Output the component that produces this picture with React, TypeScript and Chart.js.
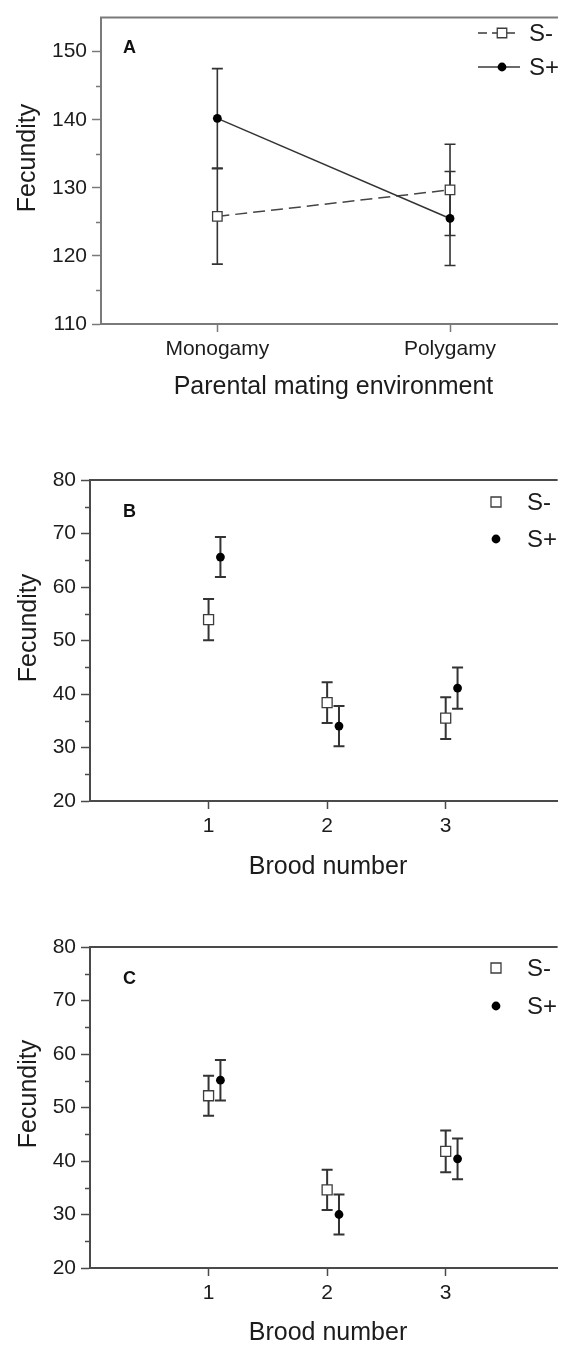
import React, { useEffect, useRef } from 'react';
import { Chart, registerables } from 'chart.js';

Chart.register(...registerables);

const FONT = '"Liberation Sans", Arial, Helvetica, sans-serif';

// ---------- Data ----------
const seriesNames = ['S-', 'S+'];

// Panel A
const matingCategories = ['Monogamy', 'Polygamy'];
const matingX = [1, 2];
const aSMinusMean = [125.8, 129.7];
const aSMinusSE = [7.0, 6.7];
const aSPlusMean = [140.2, 125.5];
const aSPlusSE = [7.3, 6.9];
const fecundityTicksA = [110, 115, 120, 125, 130, 135, 140, 145, 150];

// Panels B and C
const broods = [1, 2, 3];
const broodLabels = ['1', '2', '3'];
const bSMinusMean = [53.9, 38.4, 35.5];
const bSMinusSE = [3.85, 3.8, 3.9];
const bSPlusMean = [65.6, 34.0, 41.1];
const bSPlusSE = [3.75, 3.75, 3.85];

const cSMinusMean = [52.2, 34.6, 41.8];
const cSMinusSE = [3.75, 3.75, 3.9];
const cSPlusMean = [55.1, 30.0, 40.4];
const cSPlusSE = [3.8, 3.75, 3.8];

const fecundityTicksBC = [20, 25, 30, 35, 40, 45, 50, 55, 60, 65, 70, 75, 80];

type PanelCfg = {
  top: number;
  height: number;
  padTop: number;
  yWidth: number;
  xHeight: number;
  xMin: number;
  xMax: number;
  yMin: number;
  yMax: number;
  yTicks: number[];
  xTicks: number[];
  xTickLabels: string[];
  xTitle: string;
  xTitleY: number;
  yTitleY: number;
  yTitleX: number;
  plusOffset: number;
  lines: boolean;
  label: string;
  labelX: number;
  labelY: number;
  legendRows: number[];
  legendMarkerX: number;
  legendTextX: number;
  legendLine: [number, number] | null;
  axisColor: string;
  squareSize: number;
  minusMean: number[];
  minusSE: number[];
  plusMean: number[];
  plusSE: number[];
};

const TEXT = '#1c1c1c';

const panels: PanelCfg[] = [
  {
    top: 0, height: 420, padTop: 10, yWidth: 101, xHeight: 96,
    xMin: 0.5, xMax: 2.464, yMin: 110, yMax: 155,
    yTicks: fecundityTicksA, xTicks: matingX, xTickLabels: matingCategories,
    xTitle: 'Parental mating environment', xTitleY: 387, yTitleY: 158, yTitleX: 28,
    plusOffset: 0, lines: true,
    label: 'A', labelX: 123, labelY: 48,
    legendRows: [33, 67], legendMarkerX: 502, legendTextX: 529, legendLine: [478, 520],
    axisColor: '#7a7a7a', squareSize: 9.5,
    minusMean: aSMinusMean, minusSE: aSMinusSE, plusMean: aSPlusMean, plusSE: aSPlusSE,
  },
  {
    top: 440, height: 440, padTop: 40, yWidth: 90, xHeight: 79,
    xMin: 0, xMax: 3.944, yMin: 20, yMax: 80,
    yTicks: fecundityTicksBC, xTicks: broods, xTickLabels: broodLabels,
    xTitle: 'Brood number', xTitleY: 427, yTitleY: 188, yTitleX: 29,
    plusOffset: 0.1, lines: false,
    label: 'B', labelX: 123, labelY: 72,
    legendRows: [62, 99], legendMarkerX: 496, legendTextX: 527, legendLine: null,
    axisColor: '#4a4a4a', squareSize: 10,
    minusMean: bSMinusMean, minusSE: bSMinusSE, plusMean: bSPlusMean, plusSE: bSPlusSE,
  },
  {
    top: 880, height: 467, padTop: 67, yWidth: 90, xHeight: 79,
    xMin: 0, xMax: 3.944, yMin: 20, yMax: 80,
    yTicks: fecundityTicksBC, xTicks: broods, xTickLabels: broodLabels,
    xTitle: 'Brood number', xTitleY: 453, yTitleY: 214, yTitleX: 29,
    plusOffset: 0.1, lines: false,
    label: 'C', labelX: 123, labelY: 99,
    legendRows: [88, 126], legendMarkerX: 496, legendTextX: 527, legendLine: null,
    axisColor: '#4a4a4a', squareSize: 10,
    minusMean: cSMinusMean, minusSE: cSMinusSE, plusMean: cSPlusMean, plusSE: cSPlusSE,
  },
];

function drawSquare(ctx: CanvasRenderingContext2D, x: number, y: number, s: number) {
  ctx.save();
  ctx.fillStyle = '#ffffff';
  ctx.strokeStyle = '#3c3c3c';
  ctx.lineWidth = 1.3;
  ctx.beginPath();
  ctx.rect(x - s / 2, y - s / 2, s, s);
  ctx.fill();
  ctx.stroke();
  ctx.restore();
}

function drawDot(ctx: CanvasRenderingContext2D, x: number, y: number, r: number) {
  ctx.save();
  ctx.fillStyle = '#000000';
  ctx.beginPath();
  ctx.arc(x, y, r, 0, Math.PI * 2);
  ctx.fill();
  ctx.restore();
}

function makeChart(canvas: HTMLCanvasElement, p: PanelCfg) {
  const minusX = p.xTicks.map((v) => v);
  const plusX = p.xTicks.map((v) => v + p.plusOffset);

  const minusData = p.minusMean.map((m, i) => ({ x: minusX[i], y: m }));
  const plusData = p.plusMean.map((m, i) => ({ x: plusX[i], y: m }));

  const errorGroups = [
    { xs: minusX, means: p.minusMean, ses: p.minusSE },
    { xs: plusX, means: p.plusMean, ses: p.plusSE },
  ];

  const decor = {
    id: 'decor' + p.label,
    beforeDatasetsDraw(chart: any) {
      const ctx: CanvasRenderingContext2D = chart.ctx;
      const xs = chart.scales.x;
      const ys = chart.scales.y;
      const area = chart.chartArea;
      ctx.save();
      // top frame line
      ctx.strokeStyle = p.axisColor;
      ctx.lineWidth = 2;
      ctx.beginPath();
      ctx.moveTo(area.left - 1, area.top);
      ctx.lineTo(area.right, area.top);
      ctx.stroke();
      // minor ticks
      ctx.lineWidth = 1.5;
      ctx.beginPath();
      p.yTicks.forEach((v) => {
        if (v % 10 !== 0) {
          const py = Math.round(ys.getPixelForValue(v)) + 0.5;
          ctx.moveTo(area.left - 5, py);
          ctx.lineTo(area.left, py);
        }
      });
      ctx.stroke();
      // error bars
      ctx.strokeStyle = '#333333';
      ctx.lineWidth = p.lines ? 1.6 : 2;
      const cap = 5.5;
      errorGroups.forEach((g) => {
        g.xs.forEach((xv, i) => {
          const px = xs.getPixelForValue(xv);
          const t = ys.getPixelForValue(g.means[i] + g.ses[i]);
          const b = ys.getPixelForValue(g.means[i] - g.ses[i]);
          ctx.beginPath();
          ctx.moveTo(px, t);
          ctx.lineTo(px, b);
          ctx.moveTo(px - cap, t);
          ctx.lineTo(px + cap, t);
          ctx.moveTo(px - cap, b);
          ctx.lineTo(px + cap, b);
          ctx.stroke();
        });
      });
      ctx.restore();
    },
    afterDraw(chart: any) {
      const ctx: CanvasRenderingContext2D = chart.ctx;
      const area = chart.chartArea;
      ctx.save();
      // panel label
      ctx.fillStyle = '#111111';
      ctx.font = `bold 18px ${FONT}`;
      ctx.textAlign = 'left';
      ctx.textBaseline = 'middle';
      ctx.fillText(p.label, p.labelX, p.labelY);
      // legend
      p.legendRows.forEach((ry, i) => {
        if (p.legendLine) {
          ctx.save();
          ctx.strokeStyle = '#3a3a3a';
          ctx.lineWidth = 1.5;
          if (i === 0) ctx.setLineDash([9, 5]);
          ctx.beginPath();
          ctx.moveTo(p.legendLine[0], ry);
          ctx.lineTo(p.legendLine[1], ry);
          ctx.stroke();
          ctx.restore();
        }
        if (i === 0) drawSquare(ctx, p.legendMarkerX, ry, p.squareSize);
        else drawDot(ctx, p.legendMarkerX, ry, 4.4);
        ctx.fillStyle = TEXT;
        ctx.font = `24px ${FONT}`;
        ctx.textAlign = 'left';
        ctx.textBaseline = 'middle';
        ctx.fillText(seriesNames[i], p.legendTextX, ry + 1);
      });
      // axis titles
      ctx.fillStyle = TEXT;
      ctx.font = `25px ${FONT}`;
      ctx.textAlign = 'center';
      ctx.textBaseline = 'middle';
      ctx.fillText(p.xTitle, (area.left + 566) / 2, p.xTitleY);
      ctx.save();
      ctx.translate(p.yTitleX, p.yTitleY);
      ctx.rotate(-Math.PI / 2);
      ctx.fillText('Fecundity', 0, 0);
      ctx.restore();
      ctx.restore();
    },
  };

  const datasets: any[] = [
    {
      label: seriesNames[0],
      data: minusData,
      showLine: p.lines,
      borderColor: '#444444',
      borderWidth: 1.5,
      borderDash: [12, 6],
      pointStyle: 'rect',
      pointRadius: p.squareSize / Math.SQRT2,
      pointBackgroundColor: '#ffffff',
      pointBorderColor: '#3c3c3c',
      pointBorderWidth: 1.3,
      order: 2,
    },
    {
      label: seriesNames[1],
      data: plusData,
      showLine: p.lines,
      borderColor: '#333333',
      borderWidth: 1.5,
      pointStyle: 'circle',
      pointRadius: 4.4,
      pointBackgroundColor: '#000000',
      pointBorderColor: '#000000',
      pointBorderWidth: 0,
      order: 1,
    },
  ];

  return new Chart(canvas, {
    type: 'scatter',
    data: { datasets },
    options: {
      responsive: false,
      animation: false,
      devicePixelRatio: 1,
      layout: { padding: { top: p.padTop, left: 0, right: 0, bottom: 0 } },
      plugins: { legend: { display: false }, tooltip: { enabled: false } },
      scales: {
        x: {
          type: 'linear',
          min: p.xMin,
          max: p.xMax,
          afterBuildTicks: (s: any) => { s.ticks = p.xTicks.map((v) => ({ value: v })); },
          afterFit: (s: any) => { s.height = p.xHeight; },
          ticks: {
            autoSkip: false,
            maxRotation: 0,
            padding: 5,
            color: TEXT,
            font: { family: FONT, size: 21 },
            callback: (v: any) => {
              const idx = p.xTicks.indexOf(Number(v));
              return idx >= 0 ? p.xTickLabels[idx] : '';
            },
          },
          grid: { drawOnChartArea: false, drawTicks: true, tickLength: 8, tickColor: p.axisColor, tickWidth: 1.5 },
          border: { display: true, color: p.axisColor, width: 2 },
        },
        y: {
          type: 'linear',
          min: p.yMin,
          max: p.yMax,
          afterBuildTicks: (s: any) => { s.ticks = p.yTicks.map((v) => ({ value: v })); },
          afterFit: (s: any) => { s.width = p.yWidth; },
          ticks: {
            autoSkip: false,
            padding: 5,
            color: TEXT,
            font: { family: FONT, size: 21 },
            callback: (v: any) => (Number(v) % 10 === 0 ? String(v) : ''),
          },
          grid: {
            drawOnChartArea: false,
            drawTicks: true,
            tickLength: 9,
            tickWidth: 1.5,
            tickColor: (c: any) => (c.tick && c.tick.value % 10 === 0 ? p.axisColor : 'rgba(0,0,0,0)'),
          },
          border: { display: true, color: p.axisColor, width: 2 },
        },
      },
    },
    plugins: [decor],
  } as any);
}

function Panel({ cfg }: { cfg: PanelCfg }) {
  const ref = useRef<HTMLCanvasElement | null>(null);
  useEffect(() => {
    if (!ref.current) return;
    const chart = makeChart(ref.current, cfg);
    return () => chart.destroy();
  }, [cfg]);
  return (
    <canvas
      ref={ref}
      width={566}
      height={cfg.height}
      style={{ position: 'absolute', left: 0, top: cfg.top, width: 566, height: cfg.height, display: 'block' }}
    />
  );
}

export default function App() {
  return (
    <div style={{ position: 'absolute', left: 0, top: 0, width: 566, height: 1347, background: '#ffffff' }}>
      {panels.map((p) => (
        <Panel key={p.label} cfg={p} />
      ))}
    </div>
  );
}
